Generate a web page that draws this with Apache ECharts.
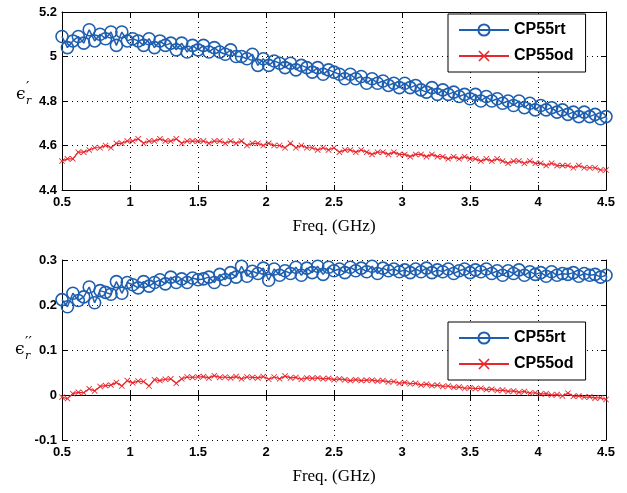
<!DOCTYPE html>
<html>
<head>
<meta charset="utf-8">
<script src="https://cdn.jsdelivr.net/npm/echarts@6/dist/echarts.min.js"></script>
<style>
  html, body { margin: 0; padding: 0; background: #fff; }
  #chart { width: 627px; height: 493px; }
</style>
</head>
<body>
<div id="chart"></div>
<script>
// frequency grid, 0.5 .. 4.5 GHz step 0.04
const freq = [];
for (let i = 0; i <= 100; i++) freq.push(+(0.5 + i * 0.04).toFixed(2));

const seriesNames = ['CP55rt', 'CP55od'];

// real part
const epsRealRt = [
  5.09, 5.04, 5.07, 5.09, 5.06, 5.12, 5.07, 5.10, 5.08, 5.11,
  5.05, 5.11, 5.07, 5.08, 5.07, 5.05, 5.08, 5.04, 5.07, 5.05,
  5.06, 5.03, 5.06, 5.02, 5.05, 5.03, 5.05, 5.02, 5.04, 5.02,
  5.01, 5.03, 5.00, 5.00, 4.99, 5.01, 4.96, 4.99, 4.96, 4.98,
  4.97, 4.95, 4.97, 4.94, 4.96, 4.95, 4.93, 4.95, 4.92, 4.94,
  4.93, 4.92, 4.90, 4.92, 4.90, 4.91, 4.88, 4.90, 4.88, 4.89,
  4.87, 4.88, 4.86, 4.88, 4.86, 4.87, 4.85, 4.84, 4.86, 4.83,
  4.85, 4.83, 4.84, 4.82, 4.83, 4.81, 4.83, 4.80, 4.82, 4.80,
  4.81, 4.79, 4.80, 4.78, 4.80, 4.77, 4.79, 4.76, 4.78, 4.76,
  4.77, 4.75, 4.76, 4.74, 4.75, 4.73, 4.75, 4.73, 4.74, 4.72,
  4.73
];
const epsRealOd = [
  4.53, 4.54, 4.54, 4.57, 4.57, 4.58, 4.59, 4.59, 4.60, 4.59,
  4.61, 4.61, 4.62, 4.62, 4.63, 4.61, 4.62, 4.62, 4.63, 4.62,
  4.62, 4.63, 4.61, 4.62, 4.62, 4.62, 4.62, 4.61, 4.62, 4.62,
  4.61, 4.62, 4.61, 4.62, 4.60, 4.61, 4.61, 4.60, 4.61, 4.60,
  4.60, 4.59, 4.61, 4.59, 4.60, 4.59, 4.59, 4.58, 4.59, 4.58,
  4.59, 4.57, 4.58, 4.58, 4.57, 4.58, 4.57, 4.56, 4.57, 4.57,
  4.56, 4.57, 4.56, 4.56, 4.55, 4.56, 4.56, 4.55, 4.56, 4.55,
  4.55, 4.54, 4.55, 4.54, 4.55, 4.54, 4.54, 4.53, 4.54, 4.53,
  4.54, 4.53, 4.52, 4.53, 4.53, 4.52, 4.53, 4.52, 4.52, 4.51,
  4.52, 4.51, 4.51, 4.51, 4.50, 4.51, 4.50, 4.50, 4.50, 4.49,
  4.49
];

// imaginary part
const epsImagRt = [
  0.212, 0.196, 0.226, 0.210, 0.218, 0.240, 0.205, 0.232, 0.228, 0.224,
  0.252, 0.226, 0.250, 0.245, 0.238, 0.252, 0.242, 0.250, 0.256, 0.247,
  0.262, 0.250, 0.258, 0.250, 0.260, 0.256, 0.258, 0.262, 0.250, 0.268,
  0.256, 0.272, 0.262, 0.286, 0.264, 0.275, 0.270, 0.282, 0.255, 0.280,
  0.266, 0.276, 0.270, 0.284, 0.266, 0.282, 0.272, 0.286, 0.268, 0.284,
  0.276, 0.280, 0.272, 0.284, 0.276, 0.282, 0.274, 0.286, 0.270, 0.282,
  0.276, 0.280, 0.274, 0.278, 0.272, 0.280, 0.274, 0.282, 0.272, 0.278,
  0.274, 0.280, 0.270, 0.276, 0.280, 0.272, 0.278, 0.274, 0.280, 0.270,
  0.276, 0.266, 0.276, 0.270, 0.278, 0.266, 0.274, 0.268, 0.272, 0.264,
  0.274, 0.266, 0.270, 0.268, 0.272, 0.264, 0.270, 0.266, 0.268, 0.262,
  0.266
];
const epsImagOd = [
  -0.005, -0.008, 0.003, 0.006, 0.005, 0.014, 0.009, 0.019, 0.021, 0.022,
  0.028, 0.020, 0.032, 0.027, 0.031, 0.030, 0.020, 0.034, 0.032, 0.035,
  0.036, 0.026, 0.036, 0.040, 0.039, 0.040, 0.041, 0.038, 0.043, 0.039,
  0.040, 0.038, 0.041, 0.036, 0.040, 0.039, 0.038, 0.041, 0.035, 0.040,
  0.036, 0.042, 0.038, 0.039, 0.035, 0.038, 0.037, 0.038, 0.036, 0.037,
  0.034, 0.036, 0.034, 0.032, 0.034, 0.032, 0.033, 0.033, 0.031, 0.032,
  0.029, 0.030, 0.026, 0.028, 0.025, 0.026, 0.022, 0.024, 0.021, 0.022,
  0.019, 0.020, 0.017, 0.018, 0.015, 0.016, 0.014, 0.015, 0.012, 0.013,
  0.010, 0.011, 0.008, 0.009, 0.006, 0.008, 0.004, 0.005, 0.002, 0.003,
  0.000, 0.001, -0.002, 0.004, -0.003, -0.002, -0.005, -0.004, -0.007, -0.006,
  -0.010
];

const blue = '#1f5fb0';
const red = '#e8262c';
const crossPath = 'path://M0,1L1,0L5,4L9,0L10,1L6,5L10,9L9,10L5,6L1,10L0,9L4,5Z';
const tickFont = { color: '#000', fontFamily: 'Liberation Sans, Arial', fontWeight: 'bold', fontSize: 13 };

function pairs(ys) { return ys.map((y, i) => [freq[i], y]); }

function xAxes(gi, withName) {
  return [
    {
      type: 'value', gridIndex: gi, min: 0.5, max: 4.5, interval: 0.5,
      name: withName, nameLocation: 'middle', nameGap: 28,
      nameTextStyle: { fontFamily: 'Liberation Serif, serif', fontSize: 17, color: '#000' },
      axisLine: { show: true, lineStyle: { color: '#000', width: 1 } },
      axisTick: { show: true, inside: true, length: 5, lineStyle: { color: '#000' } },
      axisLabel: Object.assign({ margin: 6, formatter: v => String(v) }, tickFont),
      splitLine: { show: true, lineStyle: { color: '#000', type: [1, 4], width: 1 } }
    },
    {
      type: 'value', gridIndex: gi, position: 'top', min: 0.5, max: 4.5, interval: 0.5,
      axisLine: { show: true, lineStyle: { color: '#000', width: 1 } },
      axisTick: { show: true, inside: true, length: 5, lineStyle: { color: '#000' } },
      axisLabel: { show: false }, splitLine: { show: false }
    }
  ];
}

function yAxes(gi, min, max, interval) {
  return [
    {
      type: 'value', gridIndex: gi, min: min, max: max, interval: interval,
      axisLine: { show: true, lineStyle: { color: '#000', width: 1 } },
      axisTick: { show: true, inside: true, length: 5, lineStyle: { color: '#000' } },
      axisLabel: Object.assign({ margin: 5, formatter: v => String(+v.toFixed(2)) }, tickFont),
      splitLine: { show: true, lineStyle: { color: '#000', type: [1, 4], width: 1 } }
    },
    {
      type: 'value', gridIndex: gi, position: 'right', min: min, max: max, interval: interval,
      axisLine: { show: true, lineStyle: { color: '#000', width: 1 } },
      axisTick: { show: true, inside: true, length: 5, lineStyle: { color: '#000' } },
      axisLabel: { show: false }, splitLine: { show: false }
    }
  ];
}

function rtSeries(xi, yi, ys) {
  return {
    name: seriesNames[0], type: 'line', xAxisIndex: xi, yAxisIndex: yi,
    data: pairs(ys), symbol: 'circle', symbolSize: 12, showAllSymbol: true,
    lineStyle: { color: blue, width: 1.5 },
    itemStyle: { color: 'rgba(255,255,255,0)', borderColor: blue, borderWidth: 1.6 },
    z: 2
  };
}
function odSeries(xi, yi, ys) {
  return {
    name: seriesNames[1], type: 'line', xAxisIndex: xi, yAxisIndex: yi,
    data: pairs(ys), symbol: crossPath, symbolSize: 6, showAllSymbol: true,
    lineStyle: { color: red, width: 1.2 },
    itemStyle: { color: red },
    z: 3
  };
}

function legendAt(top) {
  return {
    top: top, left: 448, orient: 'vertical',
    backgroundColor: '#fff', borderColor: '#000', borderWidth: 1,
    padding: [8, 12, 8, 10], itemGap: 10, itemWidth: 50, itemHeight: 14,
    textStyle: { fontFamily: 'Liberation Sans, Arial', fontWeight: 'bold', fontSize: 16, color: '#000' },
    data: seriesNames
  };
}

// epsilon label with prime(s) and subscript r
function epsLabel(x, y, primes) {
  const f = 'DejaVu Serif, serif';
  return {
    type: 'group', left: x, top: y,
    children: [
      { type: 'text', x: 0, y: 5, style: { text: 'ϵ', font: '17px ' + f, fill: '#000' } },
      { type: 'text', x: 10, y: 0, style: { text: primes, font: '15px ' + f, fill: '#000' } },
      { type: 'text', x: 10, y: 15, style: { text: 'r', font: 'italic 11px ' + f, fill: '#000' } }
    ]
  };
}

const chart = echarts.init(document.getElementById('chart'));
chart.setOption({
  animation: false,
  backgroundColor: '#fff',
  grid: [
    { left: 62, right: 21, top: 12, height: 178 },
    { left: 62, right: 21, top: 260, height: 180 }
  ],
  legend: [legendAt(14), legendAt(322)],
  xAxis: xAxes(0, 'Freq. (GHz)').concat(xAxes(1, 'Freq. (GHz)')),
  yAxis: yAxes(0, 4.4, 5.2, 0.2).concat(yAxes(1, -0.1, 0.3, 0.1)),
  series: [
    rtSeries(0, 0, epsRealRt),
    odSeries(0, 0, epsRealOd),
    rtSeries(2, 2, epsImagRt),
    odSeries(2, 2, epsImagOd)
  ],
  graphic: [epsLabel(16, 81, '′'), epsLabel(15, 336, '′′')]
});
</script>
</body>
</html>
